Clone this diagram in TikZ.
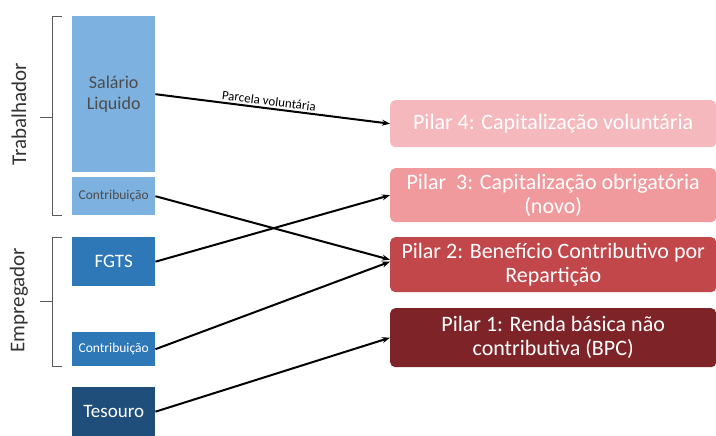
\documentclass[tikz,border=0pt]{standalone}
\usepackage{fontspec}
\setmainfont{Carlito}
\usetikzlibrary{arrows.meta}
\definecolor{lb}{HTML}{7DB1E0}
\definecolor{mb}{HTML}{2F78B8}
\definecolor{db}{HTML}{1F4E7A}
\definecolor{p4}{HTML}{F5B8BC}
\definecolor{p3}{HTML}{F19A9E}
\definecolor{p2}{HTML}{C2474B}
\definecolor{p1}{HTML}{7E2428}
\tikzset{
  srcbox/.style={anchor=north west, minimum width=83pt, inner sep=0pt, align=center, text=white},
  pilar/.style={anchor=north west, rounded corners=5pt, minimum width=326pt, inner sep=0pt, align=center, text=white, font=\fontsize{22}{24}\selectfont},
  flow/.style={line width=2pt, -{Stealth[length=8pt,width=6pt]}},
  brace/.style={draw=black!65, line width=0.9pt}
}
\begin{document}
\begin{tikzpicture}[x=1pt,y=-1pt]
\useasboundingbox (0,0) rectangle (716,436);
% left boxes
\node[srcbox, fill=lb, minimum height=156pt, font=\fontsize{18}{21}\selectfont, text=black!70] (sal) at (72,16) {Salário\\Liquido};
\node[srcbox, fill=lb, minimum height=38pt, font=\fontsize{13.5}{15}\selectfont, text=black!70] (ctr) at (72,177) {Contribuição};
\node[srcbox, fill=mb, minimum height=49pt, font=\fontsize{19}{21}\selectfont] (fgts) at (72,237) {FGTS};
\node[srcbox, fill=mb, minimum height=34pt, font=\fontsize{13.5}{15}\selectfont] (cemp) at (72,332) {Contribuição};
\node[srcbox, fill=db, minimum height=49pt, font=\fontsize{19}{21}\selectfont] (tes) at (72,387) {Tesouro};
% braces
\draw[brace] (62,16) -- (52,16) -- (52,215) -- (62,215);
\draw[brace] (52,117) -- (40,117);
\draw[brace] (62,237) -- (52,237) -- (52,366) -- (62,366);
\draw[brace] (52,301) -- (40,301);
\node[rotate=90, font=\fontsize{21}{24}\selectfont, text=black!80] (trab) at (19,114) {Trabalhador};
\node[rotate=90, font=\fontsize{21}{24}\selectfont, text=black!80] (empr) at (19,300) {Empregador};
% pillars
\node[pilar, fill=p4, minimum height=47pt] (pl4) at (390,100) {Pilar 4: Capitalização voluntária};
\node[pilar, fill=p3, minimum height=54pt] (pl3) at (390,168) {Pilar\ \ 3: Capitalização obrigatória\\(novo)};
\node[pilar, fill=p2, minimum height=55pt] (pl2) at (390,237) {Pilar 2: Benefício Contributivo por\\Repartição};
\node[pilar, fill=p1, minimum height=59pt] (pl1) at (390,308) {Pilar 1: Renda básica não\\contributiva (BPC)};
% flows
\draw[flow] (sal.east) -- node[above, sloped, font=\fontsize{13}{14}\selectfont, pos=0.48, inner sep=2pt] {Parcela voluntária} (pl4.west);
\draw[flow] (ctr.east) -- ([yshift=5pt]pl2.west);
\draw[flow] (fgts.east) -- (pl3.west);
\draw[flow] (cemp.east) -- ([yshift=3pt]pl2.west);
\draw[flow] (tes.east) -- (pl1.west);
\end{tikzpicture}
\end{document}
